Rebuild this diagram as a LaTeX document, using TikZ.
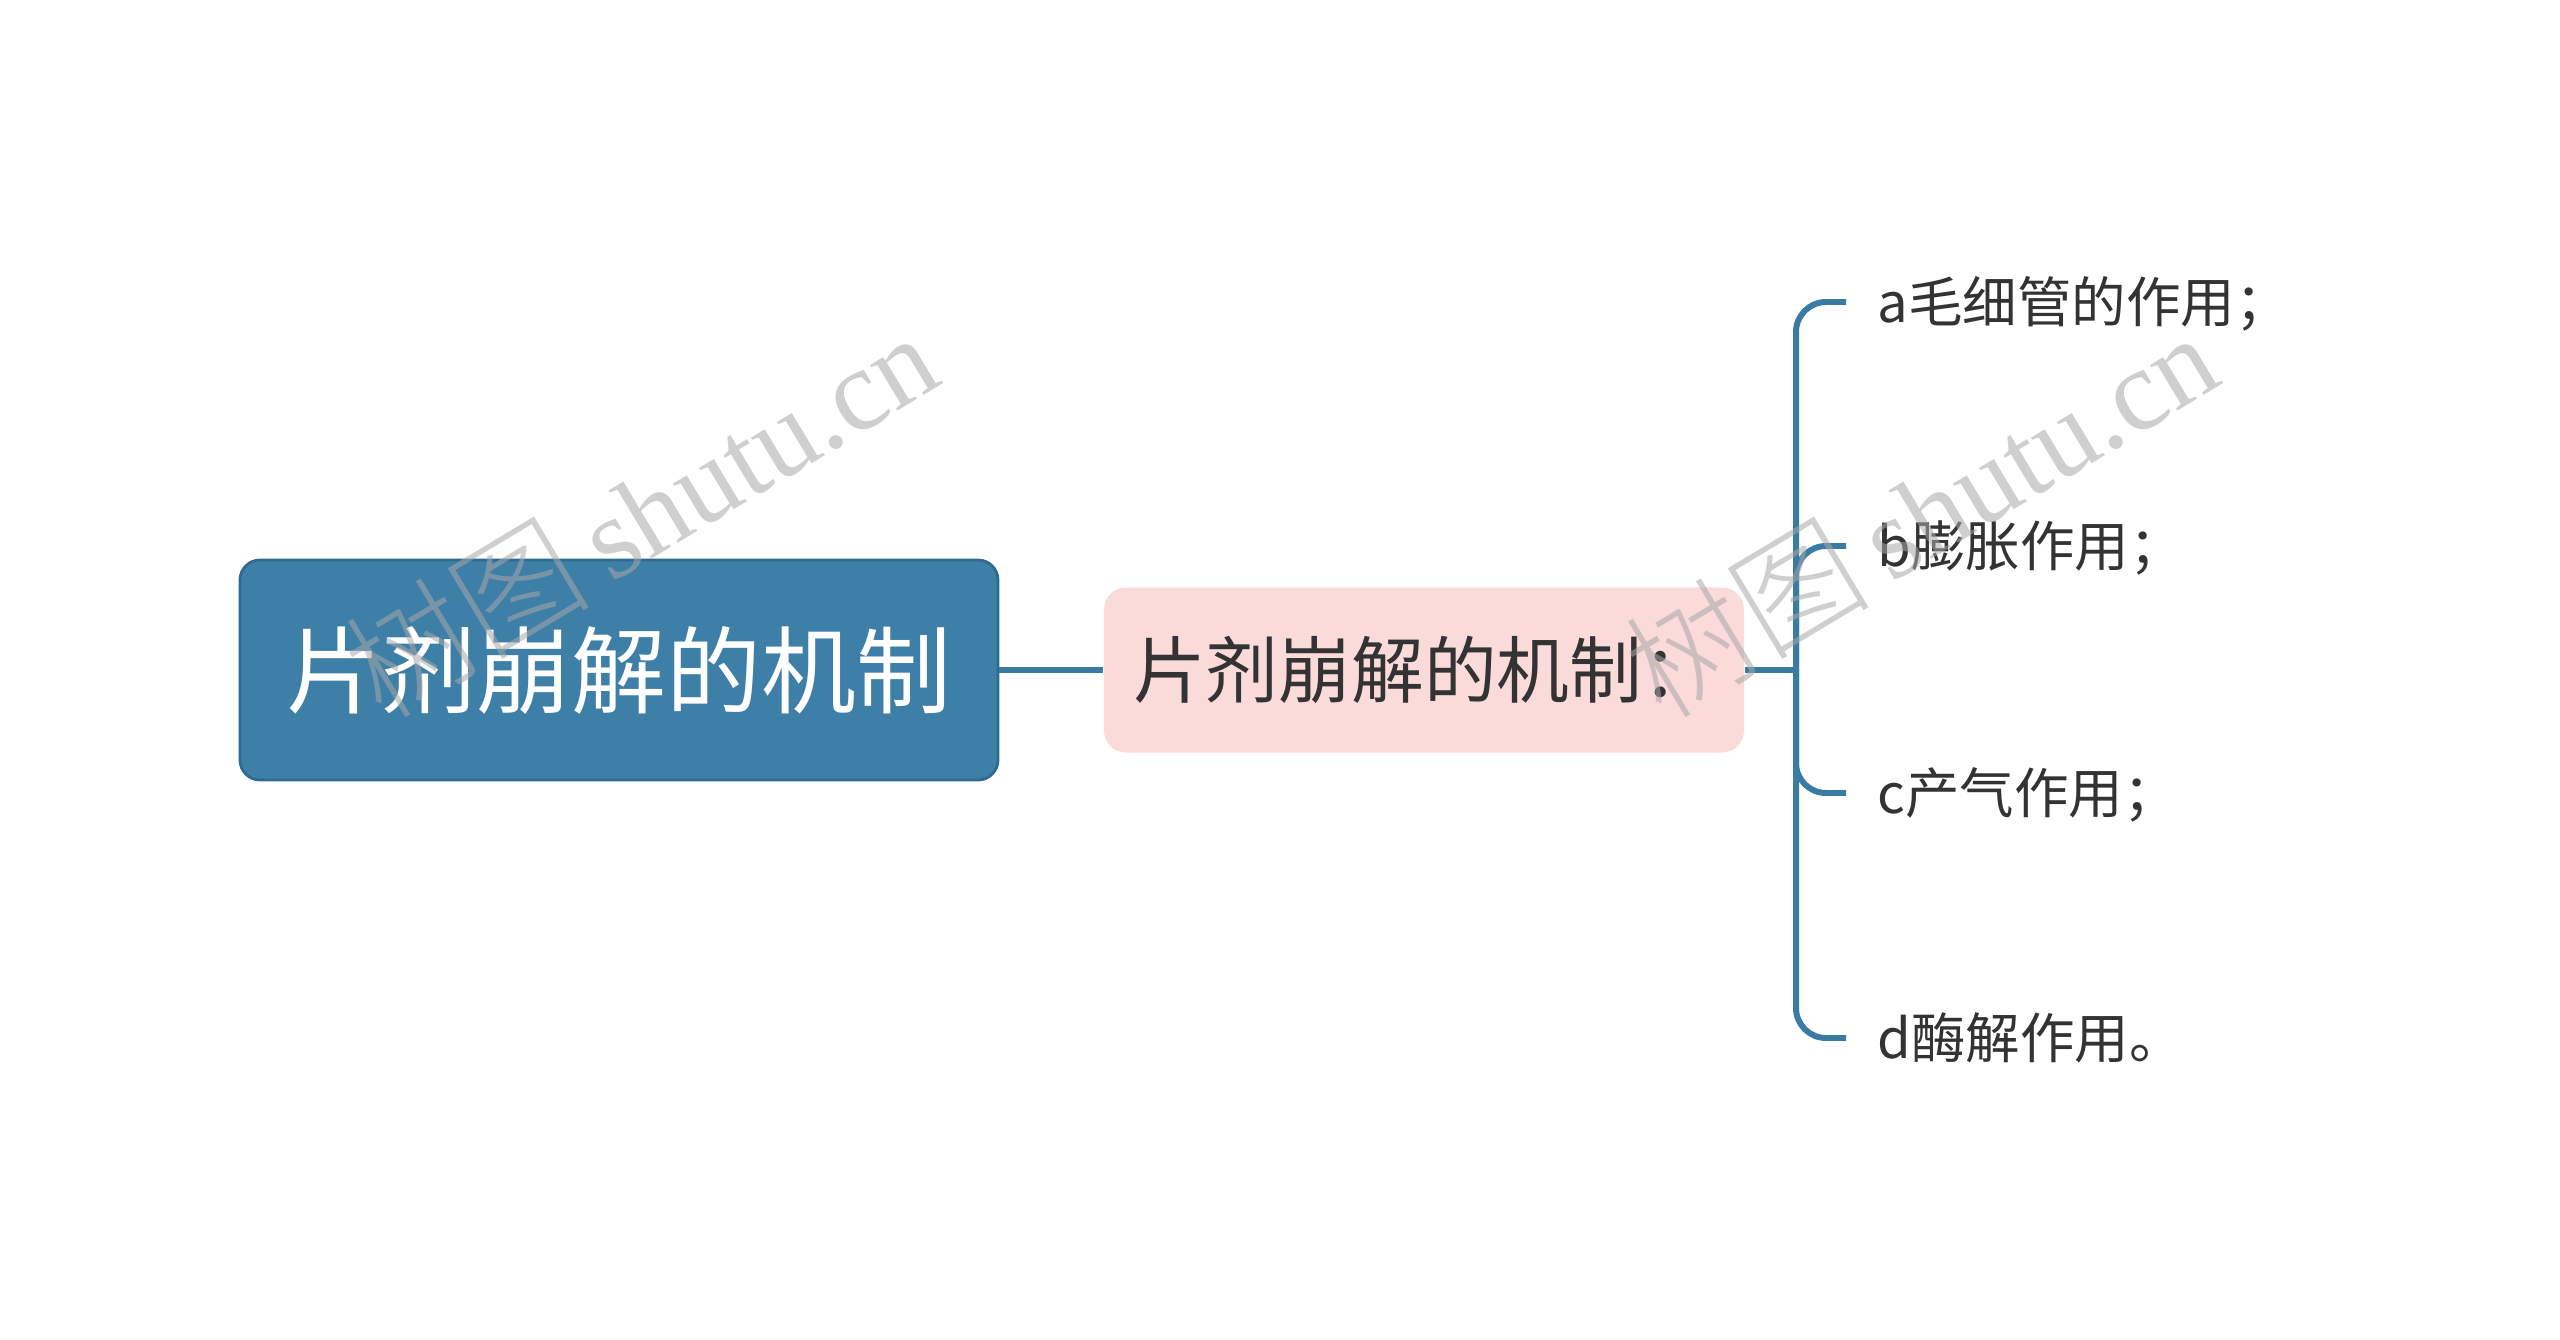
\documentclass[tikz,border=0pt]{standalone}
\usepackage{fontspec}
\setmainfont{Noto Sans CJK SC}
\newfontfamily\wmlatin{Liberation Serif}
\newfontfamily\wmcjk{Noto Sans CJK SC Light}
\definecolor{rootblue}{HTML}{3E7FA7}
\definecolor{rootedge}{HTML}{2F6B91}
\definecolor{midpink}{HTML}{FBDADA}
\definecolor{linkblue}{HTML}{3A7BA3}
\definecolor{txtgray}{HTML}{333333}
\definecolor{wmgray}{HTML}{A8A8A8}
\tikzset{
  rootbox/.style={draw=rootedge, line width=0.8pt, fill=rootblue, rounded corners=0.2cm,
    minimum width=7.58cm, minimum height=2.2cm, text=white, inner sep=0pt,
    font=\fontsize{27pt}{30pt}\selectfont},
  midbox/.style={fill=midpink, rounded corners=0.22cm, minimum width=6.40cm, minimum height=1.65cm,
    text=txtgray, inner sep=0pt, font=\fontsize{20.7pt}{23pt}\selectfont},
  leafbox/.style={anchor=west, text=txtgray, inner xsep=0.31cm, inner ysep=0pt,
    text height=1.14em, text depth=0em, font=\fontsize{15.5pt}{18pt}\selectfont},
  conn/.style={draw=linkblue, line width=1.7pt},
  branch/.style={conn, rounded corners=0.3cm},
  wmark/.style={text=wmgray, text opacity=0.55, rotate=31, inner sep=0pt}
}
\begin{document}
\begin{tikzpicture}
\useasboundingbox (0,0) rectangle (25.6,-13.4);
% nodes
\node[rootbox] (root) at (6.19,-6.70) {片剂崩解的机制};
\node[midbox] (mid) at (14.24,-6.70) {片剂崩解的机制：};
\coordinate (trunk) at (17.96,-6.70);
\node[leafbox] (la) at (18.46,-3.02) {a毛细管的作用；};
\node[leafbox] (lb) at (18.46,-5.46) {b膨胀作用；};
\node[leafbox] (lc) at (18.46,-7.93) {c产气作用；};
\node[leafbox] (ld) at (18.46,-10.38) {d酶解作用。};
% connectors
\draw[conn] (root.east) -- (mid.west);
\draw[conn] (mid.east) -- (trunk);
\draw[branch] (trunk) |- (la.west);
\draw[branch] (trunk) |- (lb.west);
\draw[branch] (trunk) |- (lc.west);
\draw[branch] (trunk) |- (ld.west);
% watermarks
\node[wmark] (wm1) at (6.40,-5.12) {\wmcjk\fontsize{35pt}{37pt}\selectfont 树图\,\wmlatin\fontsize{33pt}{35pt}\selectfont shutu.cn};
\node[wmark] (wm2) at (19.20,-5.12) {\wmcjk\fontsize{35pt}{37pt}\selectfont 树图\,\wmlatin\fontsize{33pt}{35pt}\selectfont shutu.cn};
\end{tikzpicture}
\end{document}
